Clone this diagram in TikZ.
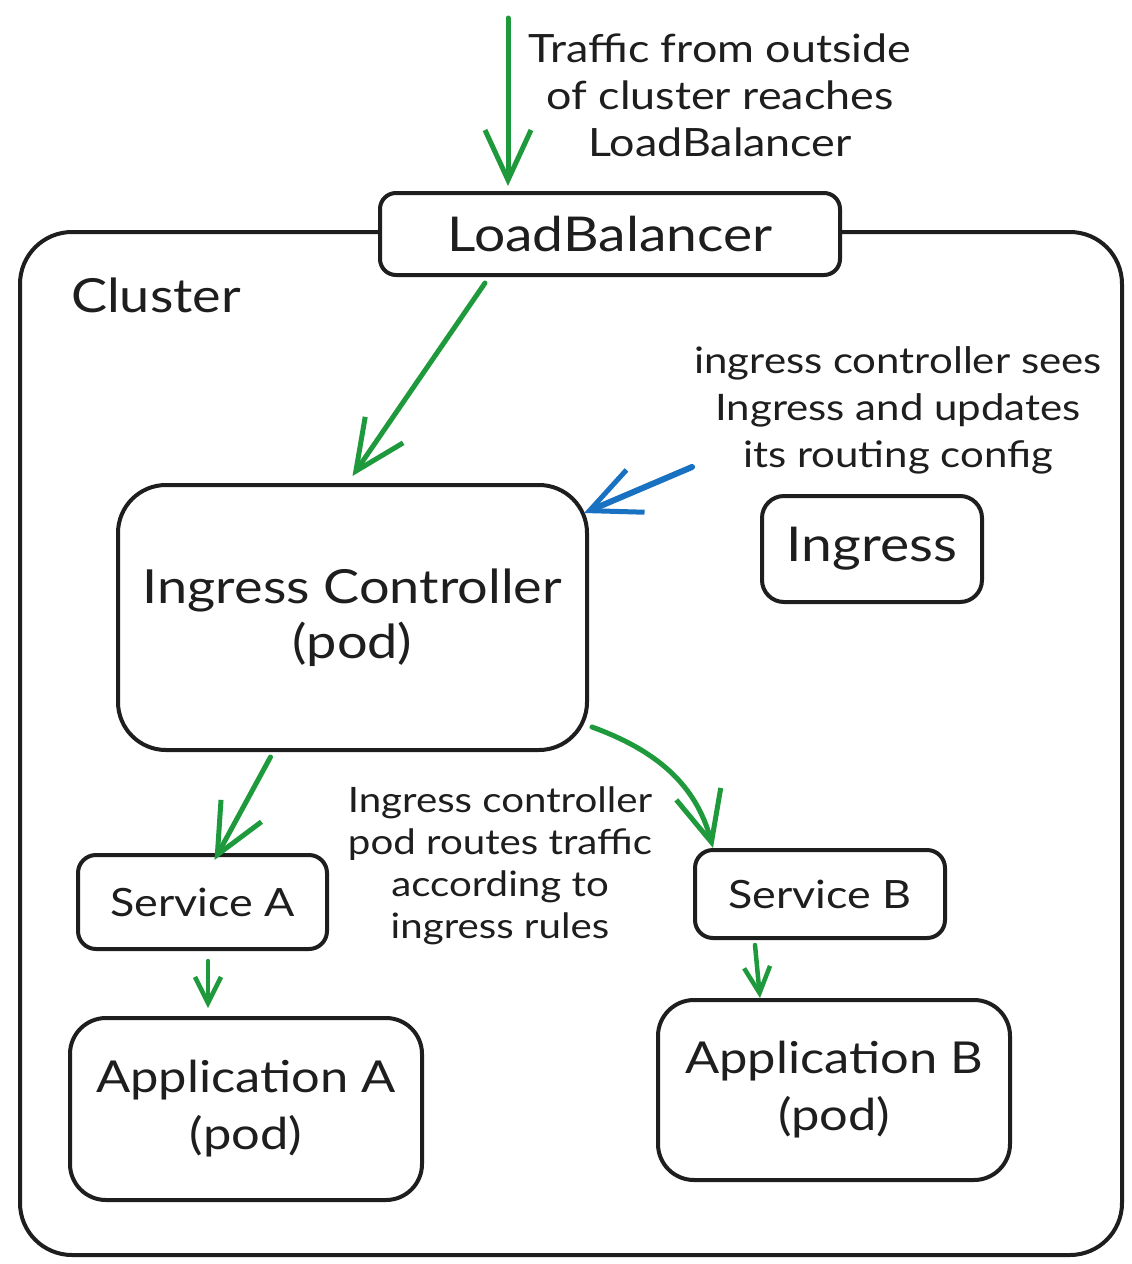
\documentclass[tikz,border=0pt]{standalone}
\usepackage{fontspec}
\setmainfont{Lato}[FakeStretch=1.15]
\usetikzlibrary{arrows.meta,calc}
\definecolor{ink}{HTML}{1E1E1E}
\definecolor{grn}{HTML}{1E9A3C}
\definecolor{blu}{HTML}{1971C2}
\begin{document}
\begin{tikzpicture}[x=1pt,y=-1pt,
  box/.style={draw=ink, line width=4pt, rounded corners=#1, fill=white, text=ink, align=center, inner sep=0pt},
  box/.default=18pt,
  note/.style={text=ink, align=center, inner sep=0pt, font=\fontsize{39}{47}\selectfont},
  notesm/.style={text=ink, align=center, inner sep=0pt, font=\fontsize{35}{42}\selectfont},
  garrow/.style={draw=grn, line width=5pt, line cap=round, -{Straight Barb[length=50pt,width=46pt,line width=5pt]}},
  sarrow/.style={draw=grn, line width=4.5pt, line cap=round, -{Straight Barb[length=26pt,width=26pt,line width=4.5pt]}},
  barrow/.style={draw=blu, line width=6pt, line cap=round, -{Straight Barb[length=50pt,width=46pt,line width=5pt]}},
]
\useasboundingbox (0,0) rectangle (1132,1264);
\fill[white] (0,0) rectangle (1132,1264);

% cluster container
\node[box=52pt, minimum width=1102pt, minimum height=1023pt] (cluster) at (571,743.5) {};
\node[text=ink, inner sep=0pt, font=\fontsize{47}{50}\selectfont] (clab) at (156,295) {Cluster};

% boxes
\node[box=16pt, minimum width=460pt, minimum height=82pt, font=\fontsize{48}{55}\selectfont] (lb) at (610,234) {LoadBalancer};
\node[box=48pt, minimum width=469pt, minimum height=265pt, font=\fontsize{47}{55}\selectfont] (ic) at (352.5,617.5) {Ingress Controller\\(pod)};
\node[box=22pt, minimum width=220pt, minimum height=106pt, font=\fontsize{48}{55}\selectfont] (ing) at (872,549) {Ingress};
\node[box=18pt, minimum width=249pt, minimum height=94pt, font=\fontsize{39}{50}\selectfont] (sa) at (202.5,902) {Service A};
\node[box=18pt, minimum width=250pt, minimum height=88pt, font=\fontsize{39}{50}\selectfont] (sb) at (820,894) {Service B};
\node[box=36pt, minimum width=352pt, minimum height=182pt, font=\fontsize{44}{57}\selectfont] (aa) at (246,1109) {Application A\\(pod)};
\node[box=36pt, minimum width=352pt, minimum height=180pt, font=\fontsize{44}{57}\selectfont] (ab) at (834,1090) {Application B\\(pod)};

% notes
\node[note] (t1) at (720,95) {Traffic from outside\\of cluster reaches\\LoadBalancer};
\node[note, font=\fontsize{36.5}{47}\selectfont] (t2) at (898,410) {ingress controller sees\\Ingress and updates\\its routing config};
\node[notesm] (t3) at (500,866) {Ingress controller\\pod routes traffic\\according to\\ingress rules};

% connectors
\coordinate (src) at (508,18);
\draw[garrow] (src) -- ([xshift=-102pt,yshift=5pt]lb.north);
\draw[garrow] ([xshift=-125pt,yshift=-6pt]lb.south) -- ([yshift=7pt]ic.north);
\coordinate (bsrc) at (692,467);
\draw[barrow] (bsrc) -- ([xshift=-5pt,yshift=-30pt]ic.north east);
\draw[garrow] ([xshift=-82pt,yshift=-5pt]ic.south) -- ([xshift=12pt,yshift=-7pt]sa.north);
\draw[garrow] ([xshift=3pt,yshift=25pt]ic.south east) to[out=-20,in=105] ([xshift=20pt]sb.north west);
\draw[sarrow] ([xshift=5.5pt,yshift=-10pt]sa.south) -- ([xshift=-38pt,yshift=8pt]aa.north);
\draw[sarrow] ([xshift=-65pt,yshift=-5pt]sb.south) -- ([xshift=-74pt]ab.north);
\end{tikzpicture}
\end{document}
